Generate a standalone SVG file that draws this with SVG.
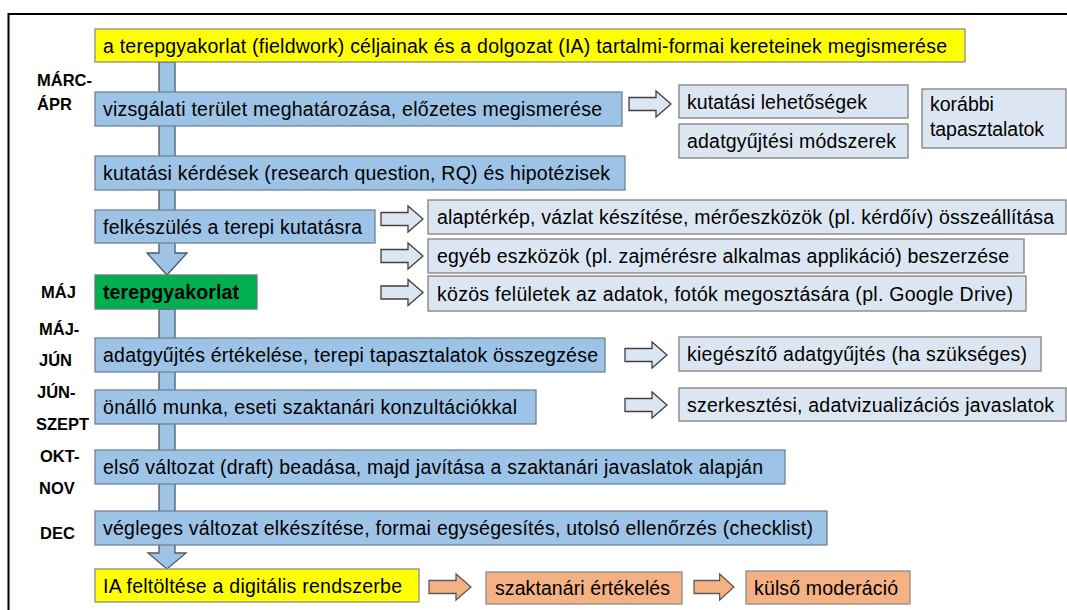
<svg xmlns="http://www.w3.org/2000/svg" xmlns:xlink="http://www.w3.org/1999/xlink" width="1067" height="610" viewBox="0 0 1067 610">
<style>
.blue{fill:#9dc3e6;stroke:#6f8396;stroke-width:1.3}
.light{fill:#dce6f2;stroke:#808080;stroke-width:1.3}
.yellow{fill:#ffff00;stroke:#8c8c8c;stroke-width:1.3}
.green{fill:#00b050;stroke:#5f7f6f;stroke-width:1.3}
.orange{fill:#f4b183;stroke:#8c8c8c;stroke-width:1.3}
.t{font-family:"Liberation Sans",Arial,sans-serif;font-size:19.5px;fill:#000}
.b{font-weight:bold}
.lbl{font-family:"Liberation Sans",Arial,sans-serif;font-weight:bold;font-size:16.5px;fill:#000}
.harrow{fill:#dce6f2;stroke:#404040;stroke-width:1.3}
.oarrow{fill:#f4b183;stroke:#595959;stroke-width:1.3}
.main{fill:#9dc3e6;stroke:#4a5a6a;stroke-width:1.3}
</style>
<defs>
<path id="ar" d="M0,-6.5 H27 V-13 L42,0 L27,13 V6.5 H0 Z"/>
</defs>
<rect width="1067" height="610" fill="#fff"/>
<path d="M8.5,610 V14 H1067" fill="none" stroke="#000" stroke-width="2"/>

<g id="connectors">
<path class="main" d="M159,62 H175 V253 H187 L167,275 L147,253 H159 Z"/>
<path class="main" d="M159,309 H175 V553 H186 L167,569 L148,553 H159 Z"/>
<use href="#ar" class="harrow" transform="translate(629,104)"/>
<use href="#ar" class="harrow" transform="translate(381,219)"/>
<use href="#ar" class="harrow" transform="translate(381,256)"/>
<use href="#ar" class="harrow" transform="translate(381,292.5)"/>
<use href="#ar" class="harrow" transform="translate(625,355)"/>
<use href="#ar" class="harrow" transform="translate(625,405)"/>
<use href="#ar" class="oarrow" transform="translate(429,587)"/>
<use href="#ar" class="oarrow" transform="translate(694,587) scale(0.95,1)"/>
</g>

<g id="labels">
<text class="lbl" x="37" y="86">MÁRC-</text>
<text class="lbl" x="37" y="110">ÁPR</text>
<text class="lbl" x="41" y="298">MÁJ</text>
<text class="lbl" x="39" y="335">MÁJ-</text>
<text class="lbl" x="39" y="366">JÚN</text>
<text class="lbl" x="37" y="398">JÚN-</text>
<text class="lbl" x="36" y="430">SZEPT</text>
<text class="lbl" x="40" y="462">OKT-</text>
<text class="lbl" x="39" y="494">NOV</text>
<text class="lbl" x="40" y="539">DEC</text>
</g>

<g id="n-top"><rect class="yellow" x="95" y="29" width="870" height="33"/><text class="t" x="103" y="52.5" textLength="844">a terepgyakorlat (fieldwork) céljainak és a dolgozat (IA) tartalmi-formai kereteinek megismerése</text></g>
<g id="n-vizsg"><rect class="blue" x="95" y="92" width="527" height="34"/><text class="t" x="103" y="116" textLength="499">vizsgálati terület meghatározása, előzetes megismerése</text></g>
<g id="n-kutlehet"><rect class="light" x="679" y="85" width="229" height="33"/><text class="t" x="687" y="108.5" textLength="180">kutatási lehetőségek</text></g>
<g id="n-adatmod"><rect class="light" x="679" y="124" width="229" height="34"/><text class="t" x="687" y="148" textLength="209">adatgyűjtési módszerek</text></g>
<g id="n-korabbi"><rect class="light" x="922" y="89" width="144" height="59"/><text class="t" x="930" y="111">korábbi</text><text class="t" x="930" y="136" textLength="114">tapasztalatok</text></g>
<g id="n-kerdes"><rect class="blue" x="95" y="156" width="530" height="34"/><text class="t" x="103" y="180" textLength="507">kutatási kérdések (research question, RQ) és hipotézisek</text></g>
<g id="n-felk"><rect class="blue" x="95" y="210" width="280" height="33"/><text class="t" x="103" y="233.5" textLength="259">felkészülés a terepi kutatásra</text></g>
<g id="n-alap"><rect class="light" x="428" y="200" width="638" height="34"/><text class="t" x="437" y="224" textLength="617">alaptérkép, vázlat készítése, mérőeszközök (pl. kérdőív) összeállítása</text></g>
<g id="n-egyeb"><rect class="light" x="428" y="239" width="596" height="34"/><text class="t" x="437" y="263" textLength="572">egyéb eszközök (pl. zajmérésre alkalmas applikáció) beszerzése</text></g>
<g id="n-kozos"><rect class="light" x="428" y="276" width="598" height="35"/><text class="t" x="437" y="300.5" textLength="576">közös felületek az adatok, fotók megosztására (pl. Google Drive)</text></g>
<g id="n-terep"><rect class="green" x="95" y="275" width="162" height="34"/><text class="t b" x="103" y="299" textLength="136">terepgyakorlat</text></g>
<g id="n-adatert"><rect class="blue" x="95" y="338" width="510" height="34"/><text class="t" x="103" y="362" textLength="495">adatgyűjtés értékelése, terepi tapasztalatok összegzése</text></g>
<g id="n-kieg"><rect class="light" x="679" y="337" width="362" height="34"/><text class="t" x="687" y="361" textLength="340">kiegészítő adatgyűjtés (ha szükséges)</text></g>
<g id="n-onallo"><rect class="blue" x="95" y="390" width="441" height="34"/><text class="t" x="103" y="414" textLength="414">önálló munka, eseti szaktanári konzultációkkal</text></g>
<g id="n-szerk"><rect class="light" x="679" y="388" width="387" height="33"/><text class="t" x="687" y="411.5" textLength="367">szerkesztési, adatvizualizációs javaslatok</text></g>
<g id="n-elso"><rect class="blue" x="95" y="450" width="690" height="34"/><text class="t" x="103" y="474" textLength="660">első változat (draft) beadása, majd javítása a szaktanári javaslatok alapján</text></g>
<g id="n-vegl"><rect class="blue" x="95" y="511" width="732" height="34"/><text class="t" x="103" y="535" textLength="710">végleges változat elkészítése, formai egységesítés, utolsó ellenőrzés (checklist)</text></g>
<g id="n-ia"><rect class="yellow" x="95" y="569" width="324" height="33"/><text class="t" x="103" y="592.5" textLength="299">IA feltöltése a digitális rendszerbe</text></g>
<g id="n-szakt"><rect class="orange" x="486" y="572" width="196" height="32"/><text class="t" x="495" y="595" textLength="175">szaktanári értékelés</text></g>
<g id="n-kulso"><rect class="orange" x="746" y="571" width="164" height="33"/><text class="t" x="754" y="594.5" textLength="144">külső moderáció</text></g>
</svg>
